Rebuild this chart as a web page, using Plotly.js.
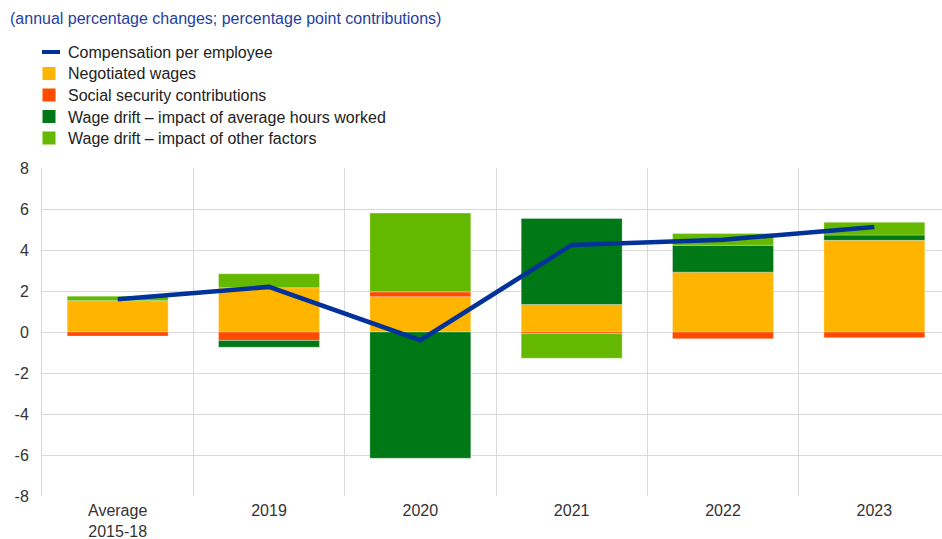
<!DOCTYPE html>
<html>
<head>
<meta charset="utf-8">
<script src="https://cdn.plot.ly/plotly-3.0.1.min.js"></script>
<style>
html, body { margin: 0; padding: 0; overflow: hidden; background: #fff; }
#chart { width: 950px; height: 539px; }
</style>
</head>
<body>
<div id="chart"></div>
<script>
const categories = ["Average<br>2015-18", "2019", "2020", "2021", "2022", "2023"];
const negotiatedWages = [1.53, 2.16, 1.72, 1.34, 2.92, 4.47];
const socialSecurity = [-0.20, -0.41, 0.24, -0.08, -0.33, -0.28];
const hoursWorked = [0.0, -0.33, -6.16, 4.20, 1.31, 0.26];
const otherFactors = [0.22, 0.68, 3.84, -1.20, 0.57, 0.62];
const compensation = [1.6, 2.2, -0.4, 4.25, 4.5, 5.12];
const yTickVals = [-8, -6, -4, -2, 0, 2, 4, 6, 8];
const yTickText = ["-8", "-6", "-4", "-2", "0", "2", "4", "6", "8"];

const barLine = { color: "rgba(255,255,255,0.6)", width: 0.5 };
const traces = [
  { type: "bar", name: "Negotiated wages", x: categories, y: negotiatedWages, legendrank: 2,
    marker: { color: "#FFB400", line: barLine } },
  { type: "bar", name: "Social security contributions", x: categories, y: socialSecurity, legendrank: 3,
    marker: { color: "#FF4B00", line: barLine } },
  { type: "bar", name: "Wage drift \u2013 impact of average hours worked", x: categories, y: hoursWorked, legendrank: 4,
    marker: { color: "#007816", line: barLine } },
  { type: "bar", name: "Wage drift \u2013 impact of other factors", x: categories, y: otherFactors, legendrank: 5,
    marker: { color: "#65B800", line: barLine } },
  { type: "scatter", mode: "lines", name: "Compensation per employee", x: categories, y: compensation, legendrank: 1,
    line: { color: "#003299", width: 4.5 } }
];

const layout = {
  width: 950, height: 539,
  margin: { l: 42, r: 0, t: 168, b: 43 },
  paper_bgcolor: "#fff", plot_bgcolor: "#fff",
  barmode: "relative", bargap: 0.333,
  font: { family: "Liberation Sans, Arial, sans-serif", size: 16, color: "#333333" },
  showlegend: false,
  annotations: [], shapes: [],
  xaxis: { type: "category", tickson: "boundaries", showgrid: true, gridcolor: "#d9d9d9", gridwidth: 1,
           ticks: "", showline: false, zeroline: false, ticklabelstandoff: 3,
           tickfont: { size: 16, color: "#333333" } },
  yaxis: { range: [-8, 8], tickvals: yTickVals, ticktext: yTickText, showgrid: true, gridcolor: "#d9d9d9",
           gridwidth: 1, zeroline: false, ticks: "", showline: true, linecolor: "#d9d9d9", linewidth: 1,
           ticklabelstandoff: 9, tickfont: { size: 16, color: "#333333" } }
};
const plotW = layout.width - layout.margin.l - layout.margin.r;
const plotH = layout.height - layout.margin.t - layout.margin.b;
const px = v => (v - layout.margin.l) / plotW;
const py = v => (layout.height - layout.margin.b - v) / plotH;

// title
layout.annotations.push({ text: "(annual percentage changes; percentage point contributions)",
  xref: "paper", yref: "paper", x: px(8), y: py(19), showarrow: false, xanchor: "left", yanchor: "middle",
  font: { size: 16, color: "#1F3F9F" } });

// legend built from the traces, in legend order
const legendItems = traces.slice().sort((a, b) => a.legendrank - b.legendrank);
legendItems.forEach((t, i) => {
  const cy = 52 + i * 21.5;
  if (t.type === "scatter") {
    layout.shapes.push({ type: "line", xref: "paper", yref: "paper", x0: px(42), x1: px(60), y0: py(cy), y1: py(cy),
      line: { color: t.line.color, width: 4 } });
  } else {
    layout.shapes.push({ type: "rect", xref: "paper", yref: "paper", x0: px(42.5), x1: px(55.5),
      y0: py(cy - 6.5), y1: py(cy + 6.5), line: { width: 0 }, fillcolor: t.marker.color });
  }
  layout.annotations.push({ text: t.name, xref: "paper", yref: "paper", x: px(66), y: py(cy + 0.5),
    showarrow: false, xanchor: "left", yanchor: "middle", font: { size: 16, color: "#222222" } });
});

Plotly.newPlot("chart", traces, layout, { displayModeBar: false, staticPlot: true });
</script>
</body>
</html>
